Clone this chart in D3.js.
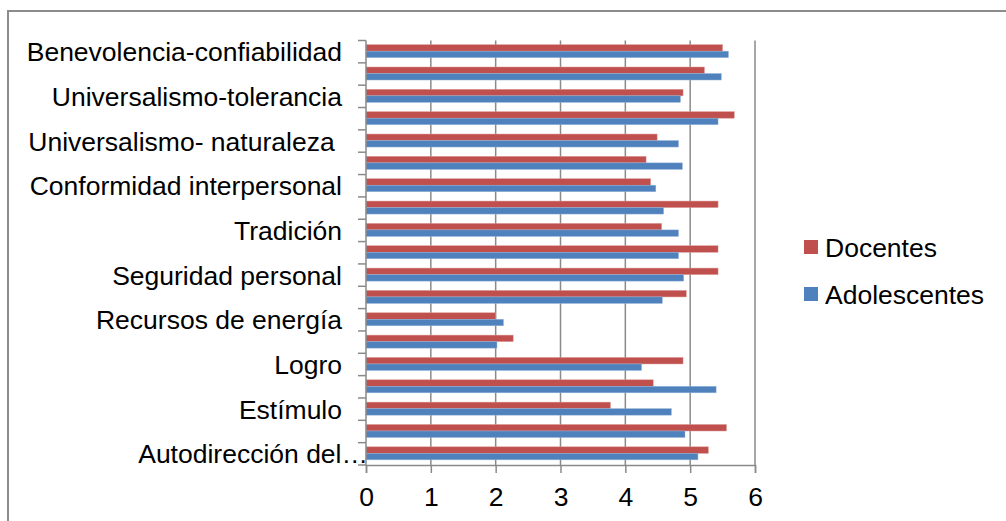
<!DOCTYPE html>
<html>
<head>
<meta charset="utf-8">
<script src="https://cdn.jsdelivr.net/npm/d3@7"></script>
<style>
  body { margin: 0; background: #fff; }
  svg { display: block; font-family: "Liberation Sans", Arial, sans-serif; }
</style>
</head>
<body>
<svg id="chart" width="1006" height="521"></svg>
<script>
// categories, top to bottom as drawn
var categories = [
  "Benevolencia-confiabilidad", "Benevolencia-cuidado",
  "Universalismo-tolerancia", "Universalismo-compromiso",
  "Universalismo- naturaleza ", "Humildad",
  "Conformidad interpersonal", "Conformidad normativa",
  "Tradición", "Seguridad social",
  "Seguridad personal", "Imagen pública",
  "Recursos de energía", "Dominio de las personas",
  "Logro", "Hedonismo",
  "Estímulo", "Autodirección de la acción",
  "Autodirección del pensamiento"
];
var seriesNames = ["Docentes", "Adolescentes"];
var docentes     = [5.50, 5.22, 4.89, 5.68, 4.49, 4.32, 4.39, 5.43, 4.56, 5.43, 5.43, 4.94, 2.00, 2.27, 4.89, 4.43, 3.77, 5.56, 5.28];
var adolescentes = [5.59, 5.48, 4.85, 5.43, 4.82, 4.88, 4.47, 4.59, 4.82, 4.82, 4.90, 4.57, 2.12, 2.02, 4.25, 5.40, 4.71, 4.92, 5.12];
var xTicks = [0, 1, 2, 3, 4, 5, 6];
var colors = { "Docentes": "#C0504D", "Adolescentes": "#4F81BD" };
var edge   = { "Docentes": "#D99694", "Adolescentes": "#95B3D7" };

var svg = d3.select("#chart");

// chart frame
svg.append("rect")
  .attr("x", 8).attr("y", 11)
  .attr("width", 1100).attr("height", 600)
  .attr("fill", "none")
  .attr("stroke", "#8c8c8c")
  .attr("stroke-width", 2);

var pLeft = 366, pRight = 755, pTop = 40.5, pBottom = 465;

var x = d3.scaleLinear().domain([0, 6]).range([pLeft, pRight]);
var y = d3.scaleBand().domain(categories).range([pTop, pBottom]);
var inner = d3.scaleBand().domain(seriesNames)
  .range([y.bandwidth() / 2 - 7, y.bandwidth() / 2 + 6]);

// vertical gridlines
svg.append("g").selectAll("line")
  .data(xTicks.slice(1))
  .enter().append("line")
  .attr("x1", function(d) { return x(d); })
  .attr("x2", function(d) { return x(d); })
  .attr("y1", pTop).attr("y2", pBottom)
  .attr("stroke", "#8a8a8a")
  .attr("stroke-width", 1.5);

// bars
var rows = categories.map(function(c, i) {
  return { cat: c, values: [
    { s: "Docentes", v: docentes[i] },
    { s: "Adolescentes", v: adolescentes[i] }
  ]};
});

var g = svg.append("g").selectAll("g")
  .data(rows)
  .enter().append("g")
  .attr("transform", function(d) { return "translate(0," + y(d.cat) + ")"; });

g.selectAll("rect")
  .data(function(d) { return d.values; })
  .enter().append("rect")
  .attr("x", x(0))
  .attr("y", function(d) { return inner(d.s); })
  .attr("width", function(d) { return x(d.v) - x(0); })
  .attr("height", inner.bandwidth())
  .attr("fill", function(d) { return colors[d.s]; })
  .attr("stroke", function(d) { return edge[d.s]; })
  .attr("stroke-width", 0.5);

// y axis: line, ticks at category boundaries, every other label
var yAxis = svg.append("g");
yAxis.append("line")
  .attr("x1", pLeft).attr("x2", pLeft)
  .attr("y1", pTop).attr("y2", pBottom)
  .attr("stroke", "#8a8a8a").attr("stroke-width", 1.5);

var bounds = categories.map(function(c) { return y(c); }).concat([pBottom]);
yAxis.selectAll(".tk")
  .data(bounds)
  .enter().append("line")
  .attr("class", "tk")
  .attr("x1", pLeft - 8).attr("x2", pLeft)
  .attr("y1", function(d) { return d; })
  .attr("y2", function(d) { return d; })
  .attr("stroke", "#8a8a8a").attr("stroke-width", 1.5);

function shortLabel(s) {
  return s.length > 27 ? s.slice(0, 17) + "…" : s;
}

yAxis.selectAll(".lbl")
  .data(categories.filter(function(c, i) { return i % 2 === 0; }))
  .enter().append("text")
  .attr("class", "lbl")
  .attr("x", function(d) { return d.length > 27 ? pLeft + 2 : pLeft - 24; })
  .attr("y", function(d) { return y(d) + y.bandwidth() / 2; })
  .attr("dy", "0.36em")
  .attr("text-anchor", "end")
  .style("white-space", "pre")
  .attr("font-size", 26.5)
  .attr("fill", "#000")
  .text(shortLabel);

// x axis
var xAxis = d3.axisBottom(x).tickValues(xTicks).tickSize(8).tickPadding(14)
  .tickFormat(d3.format("d"));
var xg = svg.append("g")
  .attr("transform", "translate(0," + pBottom + ")")
  .call(xAxis);
xg.select(".domain").attr("stroke", "#8a8a8a").attr("stroke-width", 1.5);
xg.selectAll(".tick line").attr("stroke", "#8a8a8a").attr("stroke-width", 1.5);
xg.selectAll(".tick text")
  .attr("font-size", 26.5)
  .attr("font-family", "Liberation Sans, Arial, sans-serif")
  .attr("fill", "#000");

// legend
var legend = svg.append("g").selectAll("g")
  .data(seriesNames)
  .enter().append("g")
  .attr("transform", function(d, i) { return "translate(804," + (240 + i * 47) + ")"; });

legend.append("rect")
  .attr("width", 14).attr("height", 14)
  .attr("fill", function(d) { return colors[d]; });

legend.append("text")
  .attr("x", 21).attr("y", 7)
  .attr("dy", "0.36em")
  .attr("font-size", 26.5)
  .attr("fill", "#000")
  .text(function(d) { return d; });
</script>
</body>
</html>
